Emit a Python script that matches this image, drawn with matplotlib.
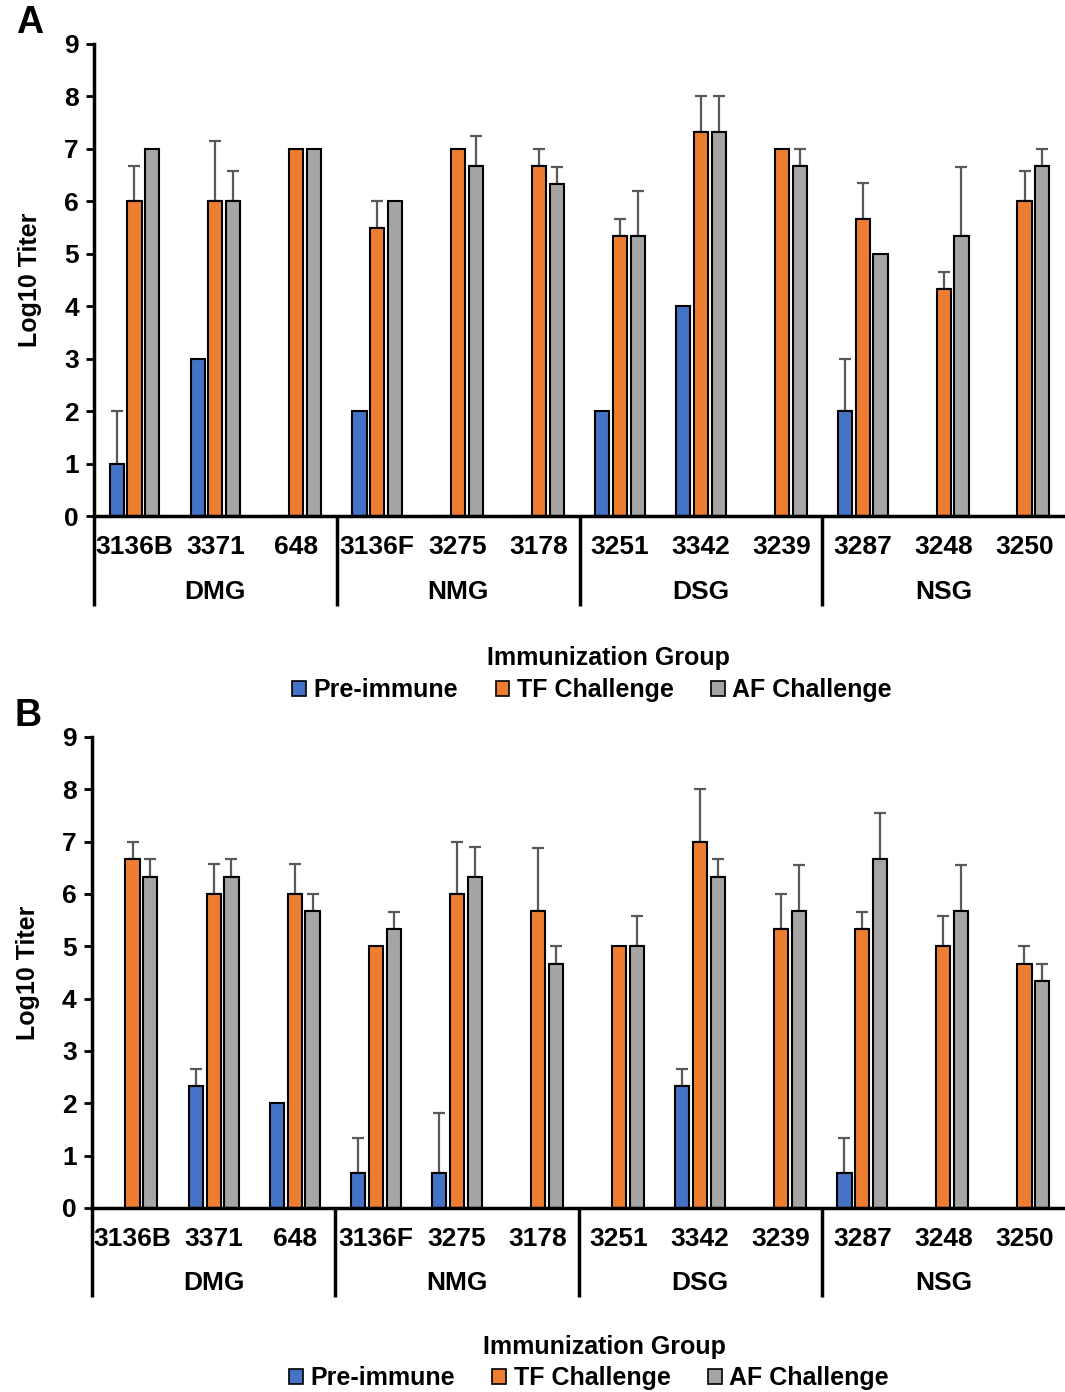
import matplotlib
matplotlib.use("Agg")
import matplotlib.pyplot as plt
import matplotlib.transforms as mtransforms
from matplotlib.patches import Patch
import numpy as np

plt.rcParams['font.family'] = ['Liberation Sans', 'DejaVu Sans']
plt.rcParams['font.weight'] = 'bold'
plt.rcParams['axes.labelweight'] = 'bold'

# data
animals = ['3136B', '3371', '648', '3136F', '3275', '3178',
           '3251', '3342', '3239', '3287', '3248', '3250']
groups = ['DMG', 'NMG', 'DSG', 'NSG']
series_names = ['Pre-immune', 'TF Challenge', 'AF Challenge']
colors = ['#4472C4', '#ED7D31', '#A5A5A5']

# panel A: means and upper error (top of bar -> top of whisker)
a_pre = [1, 3, 0, 2, 0, 0, 2, 4, 0, 2, 0, 0]
a_pre_err = [1, 0, 0, 0, 0, 0, 0, 0, 0, 1, 0, 0]
a_tf = [6, 6, 7, 5.5, 7, 6.67, 5.33, 7.33, 7, 5.67, 4.33, 6]
a_tf_err = [0.67, 1.15, 0, 0.5, 0, 0.33, 0.33, 0.67, 0, 0.67, 0.33, 0.57]
a_af = [7, 6, 7, 6, 6.67, 6.33, 5.33, 7.33, 6.67, 5, 5.33, 6.67]
a_af_err = [0, 0.57, 0, 0, 0.57, 0.33, 0.87, 0.67, 0.33, 0, 1.33, 0.33]

# panel B
b_pre = [0, 2.33, 2, 0.67, 0.67, 0, 0, 2.33, 0, 0.67, 0, 0]
b_pre_err = [0, 0.33, 0, 0.67, 1.15, 0, 0, 0.33, 0, 0.67, 0, 0]
b_tf = [6.67, 6, 6, 5, 6, 5.67, 5, 7, 5.33, 5.33, 5, 4.67]
b_tf_err = [0.33, 0.57, 0.57, 0, 1, 1.2, 0, 1, 0.67, 0.33, 0.57, 0.33]
b_af = [6.33, 6.33, 5.67, 5.33, 6.33, 4.67, 5, 6.33, 5.67, 6.67, 5.67, 4.33]
b_af_err = [0.33, 0.33, 0.33, 0.33, 0.57, 0.33, 0.57, 0.33, 0.88, 0.88, 0.88, 0.33]


def draw_panel(ax, vals, errs, letter):
    x = np.arange(len(animals))
    w = 0.175
    step = 0.22
    for i, (v, e) in enumerate(zip(vals, errs)):
        xi = x + (i - 1) * step
        ax.bar(xi, v, width=w, color=colors[i], edgecolor='black', linewidth=1.5, zorder=2)
        v = np.array(v)
        e = np.array(e)
        m = e > 0
        ax.errorbar(xi[m], v[m], yerr=[np.zeros(m.sum()), e[m]], fmt='none',
                    ecolor='#595959', elinewidth=1.6, capsize=4, capthick=1.6, zorder=1)

    ax.set_xlim(-0.5, len(animals) - 0.5)
    ax.set_ylim(0, 9)
    ax.set_yticks(range(0, 10))
    ax.tick_params(axis='y', labelsize=19, width=2, length=6, pad=5)
    ax.set_xticks([])
    for s in ['top', 'right']:
        ax.spines[s].set_visible(False)
    ax.spines['left'].set_linewidth(2.5)
    ax.spines['bottom'].set_linewidth(2.5)
    ax.set_ylabel('Log10 Titer', fontsize=18, labelpad=16)

    trans = mtransforms.blended_transform_factory(ax.transData, ax.transAxes)
    for j, name in enumerate(animals):
        ax.text(j, -0.065, name, transform=trans, ha='center', va='center', fontsize=19)
    for g, name in enumerate(groups):
        ax.text(g * 3 + 1, -0.16, name, transform=trans, ha='center', va='center', fontsize=19)
    for b in [-0.5, 2.5, 5.5, 8.5]:
        ax.plot([b, b], [0, -0.19], transform=trans, color='black', lw=2.5,
                clip_on=False, solid_capstyle='butt')

    ax.text(-0.08, 1.045, letter, transform=ax.transAxes, fontsize=27,
            ha='left', va='center')


fig = plt.figure(figsize=(10.65, 13.92), dpi=100)
ax_a = fig.add_axes([0.0883, 0.6293, 0.9117, 0.3391])
ax_b = fig.add_axes([0.0864, 0.1322, 0.9136, 0.3384])

draw_panel(ax_a, [a_pre, a_tf, a_af], [a_pre_err, a_tf_err, a_af_err], 'A')
draw_panel(ax_b, [b_pre, b_tf, b_af], [b_pre_err, b_tf_err, b_af_err], 'B')

handles = [Patch(facecolor=c, edgecolor='black', linewidth=1.2) for c in colors]
for title_y, leg_y, cx in [(1 - 658 / 1392, 1 - 690 / 1392, 0.556),
                           (1 - 1347 / 1392, 1 - 1378 / 1392, 0.553)]:
    fig.text(cx + 0.015, title_y, 'Immunization Group', ha='center', va='center', fontsize=18)
    fig.legend(handles, series_names, loc='center', bbox_to_anchor=(cx, leg_y),
               ncol=3, frameon=False, fontsize=18, handlelength=0.55, handleheight=0.55,
               handletextpad=0.3, columnspacing=1.5, borderpad=0)

fig.savefig('out.png', dpi=100)
